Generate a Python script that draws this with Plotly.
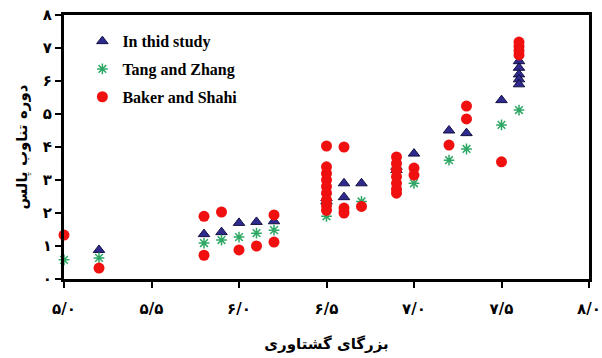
import plotly.graph_objects as go

# In thid study (blue triangles)
study_x = [5.2, 5.8, 5.9, 6.0, 6.1, 6.2, 6.5, 6.5, 6.6, 6.6, 6.7, 6.9, 6.9, 7.0, 7.2, 7.3, 7.5,
           7.6, 7.6, 7.6, 7.6, 7.6]
study_y = [0.88, 1.36, 1.42, 1.70, 1.73, 1.75, 2.45, 2.35, 2.90, 2.48, 2.90, 3.40, 3.30, 3.80, 4.50, 4.42, 5.42,
           6.60, 6.40, 6.20, 6.05, 5.90]

# Tang and Zhang (green stars)
tang_x = [5.0, 5.2, 5.8, 5.9, 6.0, 6.1, 6.2, 6.5, 6.6, 6.7, 6.9, 7.0, 7.2, 7.3, 7.5, 7.6]
tang_y = [0.58, 0.64, 1.09, 1.18, 1.27, 1.39, 1.48, 1.90, 2.05, 2.35, 3.10, 2.90, 3.60, 3.94, 4.67, 5.12]

# Baker and Shahi (red circles)
baker_x = [5.0, 5.2, 5.8, 5.8, 5.9, 6.0, 6.1, 6.2, 6.2,
           6.5, 6.5, 6.5, 6.5, 6.5, 6.5, 6.5, 6.5, 6.5,
           6.6, 6.6, 6.6, 6.7,
           6.9, 6.9, 6.9, 6.9, 6.9, 6.9, 6.9,
           7.0, 7.0, 7.2, 7.3, 7.3, 7.5,
           7.6, 7.6, 7.6, 7.6]
baker_y = [1.33, 0.33, 1.90, 0.72, 2.03, 0.88, 1.00, 1.94, 1.12,
           4.03, 3.40, 3.20, 3.00, 2.80, 2.60, 2.40, 2.22, 2.08,
           4.00, 2.15, 2.00, 2.20,
           3.70, 3.50, 3.30, 3.10, 2.90, 2.72, 2.60,
           3.36, 3.15, 4.06, 5.24, 4.85, 3.55,
           7.18, 7.05, 6.92, 6.79]

x_ticks = [5.0, 5.5, 6.0, 6.5, 7.0, 7.5, 8.0]
x_tick_labels = ["۵/۰", "۵/۵", "۶/۰", "۶/۵", "۷/۰", "۷/۵", "۸/۰"]
y_ticks = [0, 1, 2, 3, 4, 5, 6, 7, 8]
y_tick_labels = ["۰", "۱", "۲", "۳", "۴", "۵", "۶", "۷", "۸"]

x_title = "بزرگای گشتاوری"
y_title = "دوره تناوب پالس"

fig = go.Figure()
fig.add_trace(go.Scatter(
    x=study_x, y=study_y, mode="markers", name="In thid study", legendgroup="a",
    marker=dict(symbol="triangle-up", size=10, color="#2f2a8e", line=dict(color="#141040", width=1)),
    cliponaxis=False))
fig.add_trace(go.Scatter(
    x=tang_x, y=tang_y, mode="markers", name="Tang and Zhang", legendgroup="b",
    marker=dict(symbol="asterisk-open", size=9, color="#2fa866", line=dict(color="#2fa866", width=1.5)),
    cliponaxis=False))
fig.add_trace(go.Scatter(
    x=baker_x, y=baker_y, mode="markers", name="Baker and Shahi", legendgroup="c",
    marker=dict(symbol="circle", size=11, color="#f01010", line=dict(width=0)),
    cliponaxis=False))

axis_common = dict(showline=True, linecolor="black", linewidth=3, mirror=True,
                   ticks="outside", ticklen=6, tickwidth=2, tickcolor="black",
                   showgrid=False, zeroline=False, automargin=False)

fig.update_layout(
    width=602, height=358,
    margin=dict(l=64, r=13, t=15, b=79),
    paper_bgcolor="white", plot_bgcolor="white",
    showlegend=True,
    legend=dict(x=0.035, y=0.965, xanchor="left", yanchor="top",
                font=dict(family="Liberation Serif", size=16, color="black", weight="bold"),
                bgcolor="rgba(0,0,0,0)", traceorder="grouped", tracegroupgap=4),
    xaxis=dict(range=[5.0, 8.0], tickvals=x_ticks, ticktext=x_tick_labels,
               tickfont=dict(family="DejaVu Sans", size=15, color="black", weight="bold"),
               ticklabelstandoff=8,
               title=dict(text=x_title, standoff=22,
                          font=dict(family="DejaVu Sans", size=15, color="black", weight="bold")),
               **axis_common),
    yaxis=dict(range=[0, 8], tickvals=y_ticks, ticktext=y_tick_labels,
               tickfont=dict(family="DejaVu Sans", size=15, color="black", weight="bold"),
               title=dict(text=y_title, standoff=12,
                          font=dict(family="DejaVu Sans", size=15, color="black", weight="bold")),
               **axis_common),
)

fig.write_html("out.html")
